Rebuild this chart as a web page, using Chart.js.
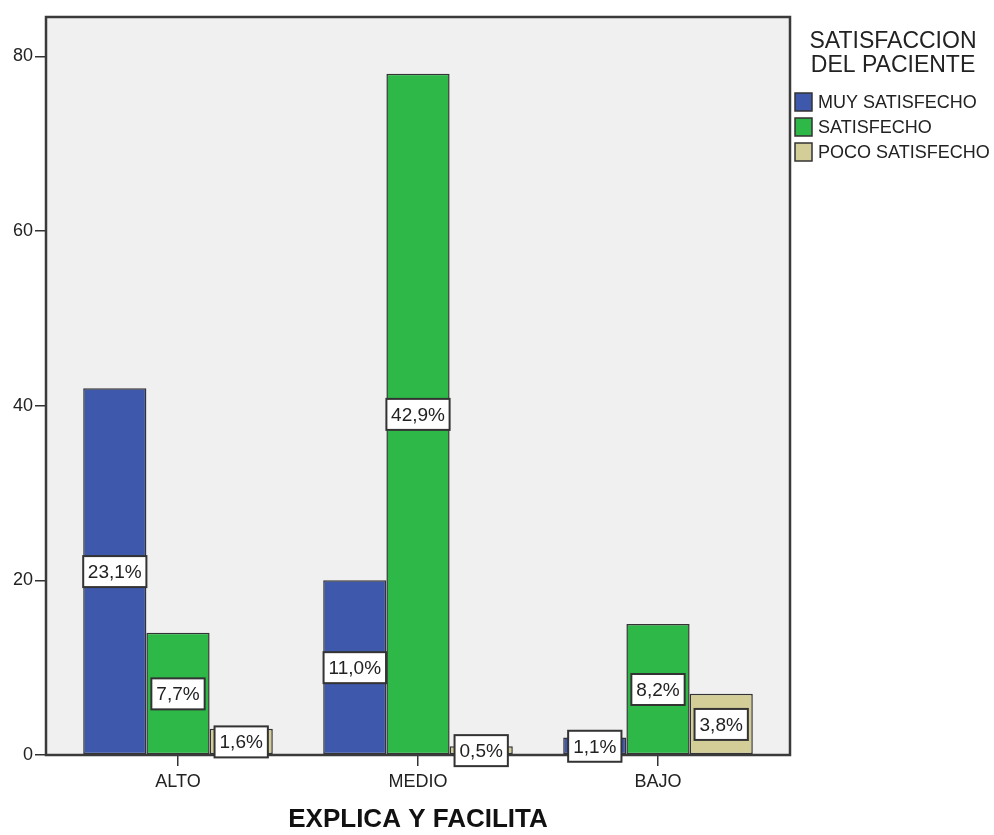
<!DOCTYPE html>
<html>
<head>
<meta charset="utf-8">
<title>Explica y facilita</title>
<script src="https://cdn.jsdelivr.net/npm/chart.js@4"></script>
<style>
  html, body { margin: 0; padding: 0; background: #fff; }
</style>
</head>
<body>
<canvas id="myChart" width="994" height="835"></canvas>
<script>
// counts per group and satisfaction level
const categories = ['ALTO', 'MEDIO', 'BAJO'];
const muySatisfecho = [42, 20, 2];
const satisfecho = [14, 78, 15];
const pocoSatisfecho = [3, 1, 7];
const seriesNames = ['MUY SATISFECHO', 'SATISFECHO', 'POCO SATISFECHO'];
const seriesColors = ['#3e58ac', '#2eb848', '#d3ce97'];
const yTicks = [0, 20, 40, 60, 80];
const legendTitle = ['SATISFACCION', 'DEL PACIENTE'];
const xTitle = 'EXPLICA Y FACILITA';

const FONT = "'Liberation Sans', Arial, sans-serif";
const total = [...muySatisfecho, ...satisfecho, ...pocoSatisfecho].reduce((a, b) => a + b, 0);

function toPoints(arr) {
    return arr.map((v, i) => ({ x: i, y: v }));
}

// grey plot background and dark frame
const plotFrame = {
    id: 'plotFrame',
    beforeDraw(chart) {
        const { ctx, chartArea: a } = chart;
        ctx.save();
        ctx.fillStyle = '#f0f0f0';
        ctx.fillRect(a.left, a.top, a.right - a.left, a.bottom - a.top);
        ctx.restore();
    },
    afterDatasetsDraw(chart) {
        const { ctx, chartArea: a } = chart;
        ctx.save();
        ctx.strokeStyle = '#3a3a3a';
        ctx.lineWidth = 2.5;
        ctx.strokeRect(a.left, a.top, a.right - a.left, a.bottom - a.top);
        ctx.restore();
    }
};

// percentage boxes in the middle of each bar
const pctLabels = {
    id: 'pctLabels',
    afterDraw(chart) {
        const { ctx } = chart;
        const yScale = chart.scales.y;
        ctx.save();
        ctx.font = '19px ' + FONT;
        ctx.textAlign = 'center';
        ctx.textBaseline = 'middle';
        chart.data.datasets.forEach((ds, di) => {
            chart.getDatasetMeta(di).data.forEach((bar, i) => {
                const v = ds.data[i].y;
                const txt = (v / total * 100).toFixed(1).replace('.', ',') + '%';
                const y = yScale.getPixelForValue(v / 2);
                const w = Math.min(ctx.measureText(txt).width + 10, bar.width);
                const h = 31;
                ctx.fillStyle = '#fff';
                ctx.fillRect(bar.x - w / 2, y - h / 2, w, h);
                ctx.strokeStyle = '#333';
                ctx.lineWidth = 2;
                ctx.strokeRect(bar.x - w / 2, y - h / 2, w, h);
                ctx.fillStyle = '#222';
                ctx.fillText(txt, bar.x, y + 1);
            });
        });
        ctx.restore();
    }
};

// legend block to the right of the plot
const sideLegend = {
    id: 'sideLegend',
    afterDraw(chart) {
        const { ctx } = chart;
        ctx.save();
        ctx.fillStyle = '#222';
        ctx.textBaseline = 'middle';
        ctx.textAlign = 'center';
        ctx.font = '23px ' + FONT;
        legendTitle.forEach((line, i) => ctx.fillText(line, 893, 42 + i * 24));
        ctx.textAlign = 'left';
        ctx.font = '18px ' + FONT;
        chart.data.datasets.forEach((ds, i) => {
            const cy = 102 + i * 25;
            ctx.fillStyle = ds.backgroundColor;
            ctx.fillRect(795, cy - 9, 17, 18);
            ctx.strokeStyle = '#333';
            ctx.lineWidth = 1.5;
            ctx.strokeRect(795, cy - 9, 17, 18);
            ctx.fillStyle = '#222';
            ctx.fillText(ds.label, 818, cy + 1);
        });
        ctx.restore();
    }
};

const ctx = document.getElementById('myChart');
new Chart(ctx, {
    type: 'bar',
    data: {
        datasets: [
            { label: seriesNames[0], data: toPoints(muySatisfecho), backgroundColor: seriesColors[0] },
            { label: seriesNames[1], data: toPoints(satisfecho), backgroundColor: seriesColors[1] },
            { label: seriesNames[2], data: toPoints(pocoSatisfecho), backgroundColor: seriesColors[2] }
        ]
    },
    options: {
        responsive: false,
        animation: false,
        layout: { padding: { top: 17, right: 204, left: 0, bottom: 0 } },
        datasets: {
            bar: {
                borderColor: '#333',
                borderWidth: 1.5,
                borderSkipped: false,
                categoryPercentage: 0.79,
                barPercentage: 1
            }
        },
        plugins: {
            legend: { display: false },
            tooltip: { enabled: false }
        },
        scales: {
            x: {
                type: 'linear',
                min: -0.55,
                max: 2.55,
                offset: false,
                border: { display: false },
                grid: { offset: false, drawOnChartArea: false, drawTicks: true, tickLength: 11, color: '#333', lineWidth: 1.5 },
                afterBuildTicks(scale) {
                    scale.ticks = categories.map((c, i) => ({ value: i }));
                },
                afterFit(scale) { scale.height = 80; },
                ticks: {
                    autoSkip: false,
                    maxRotation: 0,
                    padding: 5,
                    color: '#222',
                    font: { family: FONT, size: 18 },
                    callback: (v) => categories[v]
                },
                title: {
                    display: true,
                    text: xTitle,
                    color: '#111',
                    font: { family: FONT, size: 26, weight: 'bold' },
                    padding: { top: 0, bottom: 0 }
                }
            },
            y: {
                min: 0,
                max: 84.5,
                border: { display: false },
                grid: { drawOnChartArea: false, drawTicks: true, tickLength: 11, color: '#333', lineWidth: 1.5 },
                afterBuildTicks(scale) {
                    scale.ticks = yTicks.map(v => ({ value: v }));
                },
                afterFit(scale) { scale.width = 46; },
                ticks: {
                    padding: 2,
                    color: '#222',
                    font: { family: FONT, size: 18 }
                }
            }
        }
    },
    plugins: [plotFrame, pctLabels, sideLegend]
});
</script>
</body>
</html>
